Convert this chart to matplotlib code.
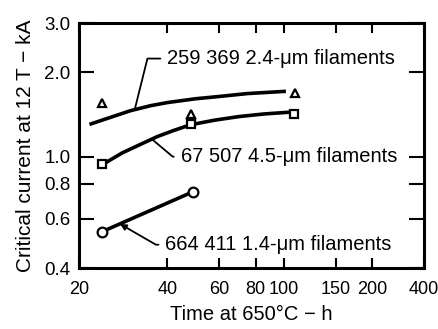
import matplotlib
matplotlib.use("Agg")
import matplotlib.pyplot as plt

plt.rcParams["font.family"] = ["Liberation Sans", "DejaVu Sans"]

# measured points (time h, critical current kA)
tri_x = [24, 48, 109]
tri_y = [1.55, 1.42, 1.69]
sq_x = [24, 48, 108]
sq_y = [0.94, 1.31, 1.42]
circ_x = [24, 49]
circ_y = [0.54, 0.75]

# fitted curves
fit1_x = [22, 25, 30, 35, 40, 50, 60, 75, 100]
fit1_y = [1.31, 1.37, 1.46, 1.52, 1.56, 1.61, 1.64, 1.68, 1.71]
fit2_x = [25, 28, 32, 37, 42, 48, 58, 70, 85, 103]
fit2_y = [0.96, 1.03, 1.10, 1.18, 1.24, 1.30, 1.35, 1.39, 1.42, 1.44]
fit3_x = [24, 49]
fit3_y = [0.54, 0.75]

labels = [
    "259 369 2.4-μm filaments",
    "67 507 4.5-μm filaments",
    "664 411 1.4-μm filaments",
]

xticks = [20, 40, 60, 80, 100, 150, 200, 300]
xtick_labels = ["20", "40", "60", "80", "100", "150", "200", "400"]
yticks = [0.4, 0.6, 0.8, 1.0, 2.0, 3.0]
ytick_labels = ["0.4", "0.6", "0.8", "1.0", "2.0", "3.0"]

fig = plt.figure(figsize=(4.39, 3.29), dpi=100)
ax = fig.add_axes([0.18, 0.185, 0.786, 0.745])
ax.set_xscale("log")
ax.set_yscale("log")
ax.set_xlim(20, 300)
ax.set_ylim(0.4, 3.0)

lw = 2.6
ax.plot(fit1_x, fit1_y, color="black", lw=lw, zorder=2)
ax.plot(fit2_x, fit2_y, color="black", lw=lw, zorder=2)
ax.plot(fit3_x, fit3_y, color="black", lw=lw, zorder=2)

mk = dict(linestyle="none", mfc="white", mec="black", mew=1.6, zorder=3)
ax.plot(tri_x, tri_y, marker="^", ms=6, **mk)
ax.plot(sq_x, sq_y, marker="s", ms=5.5, **mk)
ax.plot(circ_x, circ_y, marker="o", ms=7, **mk)

ax.set_xticks(xticks)
ax.set_xticklabels(xtick_labels)
ax.set_yticks(yticks)
ax.set_yticklabels(ytick_labels)
ax.minorticks_off()
ax.tick_params(axis="x", which="both", direction="in", top=True, bottom=True,
               length=7, width=1.5, pad=9, labelsize=13)
ax.tick_params(axis="y", which="both", direction="in", left=True, right=True,
               length=11, width=1.5, pad=6, labelsize=13.5)
for s in ax.spines.values():
    s.set_linewidth(2.2)

ax.set_xlabel("Time at 650°C − h", fontsize=14.5, labelpad=5)
ax.set_ylabel("Critical current at 12 T − kA", fontsize=15, labelpad=7)

arrow = dict(arrowstyle="-", color="black", lw=1.3, shrinkA=3, shrinkB=0)
ax.annotate(labels[0], xy=(31, 1.48), xytext=(40, 2.24), fontsize=14.5,
            va="center", ha="left",
            arrowprops=dict(connectionstyle="angle,angleA=0,angleB=76,rad=0",
                            relpos=(0, 0.5), **arrow))
ax.annotate(labels[1], xy=(35.6, 1.15), xytext=(44.4, 1.0), fontsize=14.5,
            va="center", ha="left",
            arrowprops=dict(connectionstyle="angle,angleA=0,angleB=-40,rad=0",
                            relpos=(0, 0.5), **arrow))
ax.annotate(labels[2], xy=(27.6, 0.575), xytext=(39.4, 0.485), fontsize=14.5,
            va="center", ha="left",
            arrowprops=dict(arrowstyle="-|>", color="black", lw=1.3,
                            mutation_scale=9, shrinkA=3, shrinkB=0,
                            connectionstyle="angle,angleA=0,angleB=-30,rad=0",
                            relpos=(0, 0.5)))

fig.savefig("out.png", dpi=100)
